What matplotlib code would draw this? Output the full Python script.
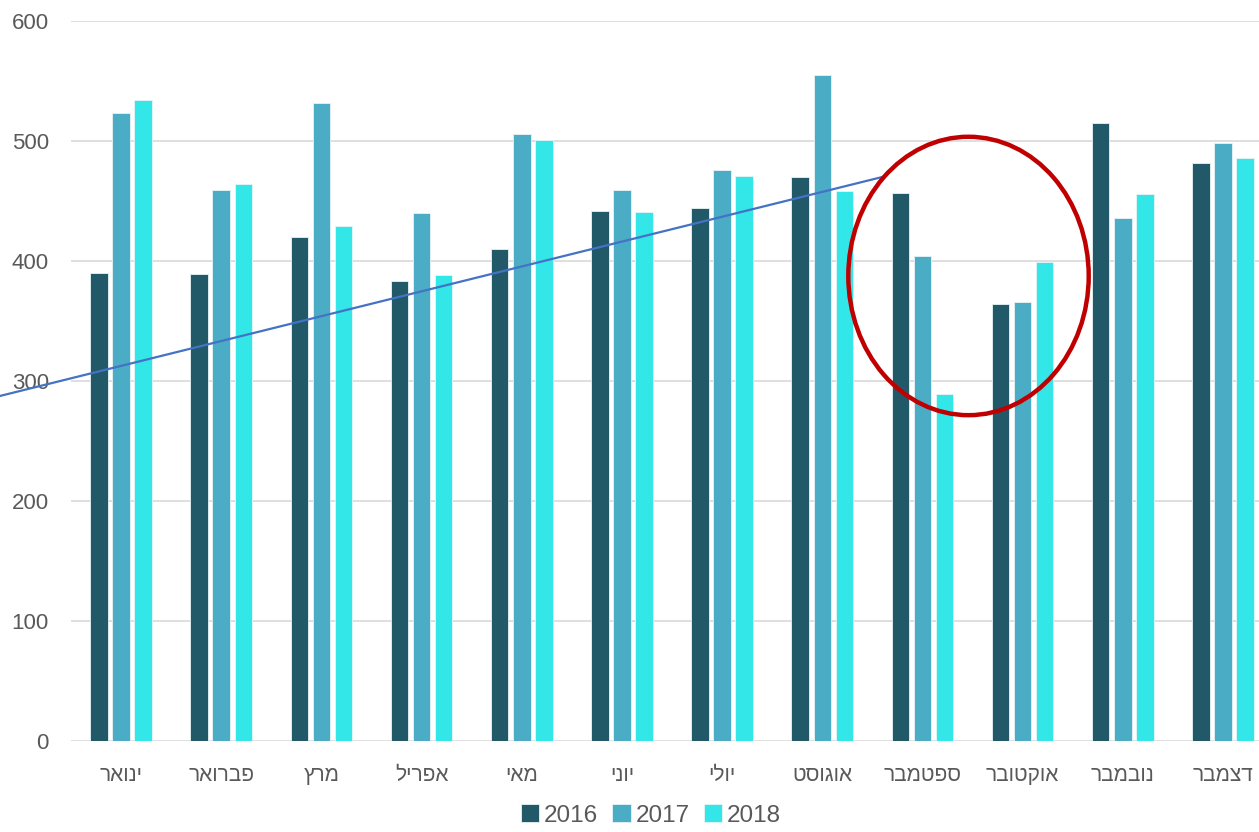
import numpy as np
import matplotlib
matplotlib.use("Agg")
import matplotlib.pyplot as plt
from matplotlib.patches import Ellipse

plt.rcParams['font.family'] = ['Liberation Sans', 'DejaVu Sans']

months = ["ינואר", "פברואר", "מרץ", "אפריל", "מאי", "יוני",
          "יולי", "אוגוסט", "ספטמבר", "אוקטובר", "נובמבר", "דצמבר"]
years = ["2016", "2017", "2018"]
v2016 = [390, 389, 420, 383, 410, 442, 444, 470, 457, 364, 515, 482]
v2017 = [523, 459, 532, 440, 506, 459, 476, 555, 404, 366, 436, 498]
v2018 = [534, 464, 429, 388, 501, 441, 471, 458, 289, 399, 456, 486]
colors = ["#225968", "#4BACC6", "#33E6E8"]

# hand drawn trend line and highlight circle (data coords)
trend_x = [-1.21, 7.6]
trend_y = [287.5, 470]
circle_xy = (8.46, 387.5)
circle_w, circle_h = 2.4, 232

fig = plt.figure(figsize=(12.59, 8.32), dpi=100)
ax = fig.add_axes([0.0564, 0.1094, 0.9436, 0.8654])

x = np.arange(len(months))
w = 0.175
off = 0.22
for i, vals in enumerate([v2016, v2017, v2018]):
    ax.bar(x + (i - 1) * off, vals, w, color=colors[i], label=years[i],
           edgecolor="#e8f4f6", linewidth=0.6, zorder=2)

ax.plot(trend_x, trend_y, color="#4472C4", lw=1.6, clip_on=False, zorder=3)
ax.add_patch(Ellipse(circle_xy, circle_w, circle_h, fill=False,
                     edgecolor="#C00000", lw=3.2, zorder=4))

ax.set_xlim(-0.5, 11.36)
ax.set_ylim(0, 600)
ax.set_yticks(range(0, 601, 100))
ax.set_xticks(x)
ax.set_xticklabels([m[::-1] for m in months], fontsize=15, color="#595959")
ax.tick_params(axis='y', labelsize=16, colors="#595959", length=0, pad=16)
ax.tick_params(axis='x', length=0, pad=18)
ax.grid(axis='y', color="#D9D9D9", lw=1.2, zorder=0)
for s in ax.spines.values():
    s.set_visible(False)

fig.legend(loc="lower center", bbox_to_anchor=(0.517, -0.02), ncol=3,
           frameon=False, fontsize=17.5, handlelength=0.75, handleheight=0.75,
           handletextpad=0.2, columnspacing=0.6, labelcolor="#595959")

fig.savefig("out.png", dpi=100)
